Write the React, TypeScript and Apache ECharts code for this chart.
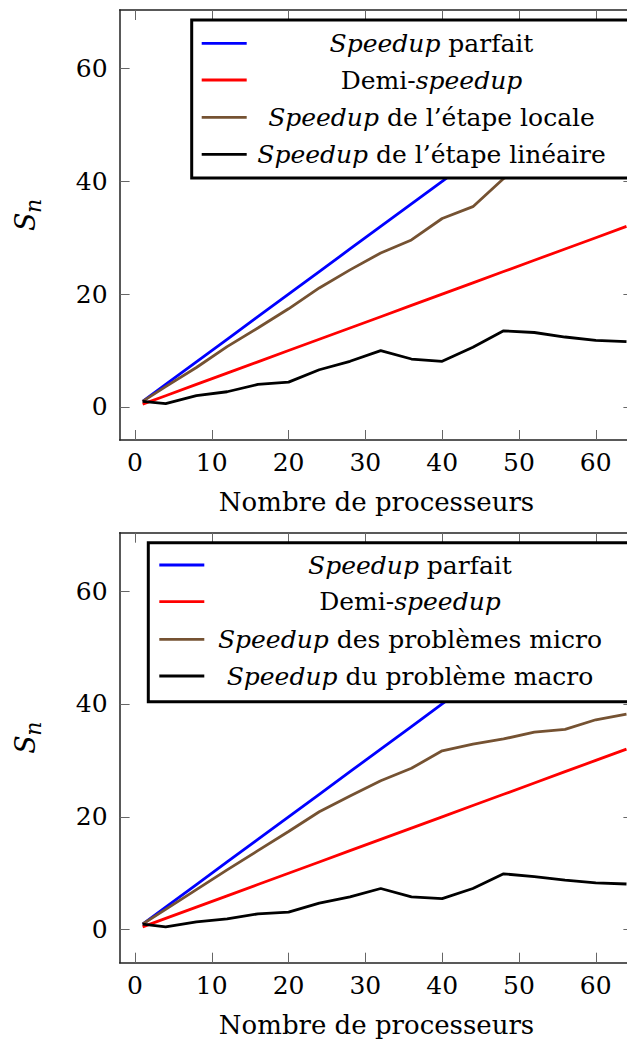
import React, { useEffect, useRef } from "react";
import * as echarts from "echarts";

const processors = [1, 4, 8, 12, 16, 20, 24, 28, 32, 36, 40, 44, 48, 52, 56, 60, 64];
const perfectSpeedup = [1, 4, 8, 12, 16, 20, 24, 28, 32, 36, 40, 44, 48, 52, 56, 60, 64];
const halfSpeedup = [0.5, 2, 4, 6, 8, 10, 12, 14, 16, 18, 20, 22, 24, 26, 28, 30, 32];
const localStep = [1, 3.6, 7.0, 10.7, 14.0, 17.4, 21.1, 24.3, 27.3, 29.6, 33.4, 35.5, 40.5, 43.5, 46.5, 49, 52];
const linearStep = [1, 0.6, 2.0, 2.7, 4.0, 4.4, 6.6, 8.1, 10.0, 8.5, 8.1, 10.6, 13.5, 13.2, 12.4, 11.8, 11.6];
const microProblems = [1, 3.6, 7.1, 10.6, 14.0, 17.4, 20.9, 23.7, 26.4, 28.6, 31.7, 32.9, 33.8, 35.0, 35.5, 37.2, 38.2];
const macroProblem = [1, 0.5, 1.4, 1.9, 2.8, 3.1, 4.7, 5.8, 7.3, 5.8, 5.5, 7.3, 9.9, 9.4, 8.8, 8.3, 8.1];

const xTicks = [0, 10, 20, 30, 40, 50, 60];
const yTicks = [0, 20, 40, 60];

const xAxisTitle = "Nombre de processeurs";
const legendTop = [
  ["Speedup", " parfait"],
  ["Demi-", "speedup"],
  ["Speedup", " de l\u2019\u00e9tape locale"],
  ["Speedup", " de l\u2019\u00e9tape lin\u00e9aire"],
];
const legendBottom = [
  ["Speedup", " parfait"],
  ["Demi-", "speedup"],
  ["Speedup", " des probl\u00e8mes micro"],
  ["Speedup", " du probl\u00e8me macro"],
];

const COLORS = ["#0000ff", "#ff0000", "#755232", "#000000"];
const FONT = "DejaVu Serif";

const pairs = (ys: number[]) => processors.map((x, i) => [x, ys[i]]);

const PANEL_OFFSET = 522.7;

function buildLegend(
  items: string[][],
  box: { x: number; y: number; w: number; h: number },
  lineX: number,
  textCx: number,
  rows: number[]
) {
  const children: any[] = [
    {
      type: "rect",
      shape: { x: box.x, y: box.y, width: box.w, height: box.h },
      style: { fill: "#fff", stroke: "#000", lineWidth: 3 },
      z: 100,
    },
  ];
  items.forEach((it, i) => {
    children.push({
      type: "line",
      shape: { x1: lineX, y1: rows[i], x2: lineX + 45, y2: rows[i] },
      style: { stroke: COLORS[i], lineWidth: 2.8 },
      z: 101,
    });
    const italicFirst = it[0] === "Speedup";
    const text = italicFirst ? `{i|${it[0]}}{r|${it[1]}}` : `{r|${it[0]}}{i|${it[1]}}`;
    children.push({
      type: "text",
      z: 101,
      style: {
        text,
        x: textCx,
        y: rows[i],
        align: "center",
        verticalAlign: "middle",
        fontFamily: FONT,
        fontSize: 25,
        fill: "#000",
        rich: {
          i: { fontFamily: FONT, fontSize: 25, fontStyle: "italic", fill: "#000" },
          r: { fontFamily: FONT, fontSize: 25, fill: "#000" },
        },
      },
    });
  });
  return children;
}

function sn(offset: number) {
  return [
    {
      type: "text",
      x: 39,
      y: 231 + offset,
      rotation: Math.PI / 2,
      style: { text: "S", fontFamily: FONT, fontSize: 27, fontStyle: "italic", fill: "#000", align: "left", verticalAlign: "bottom" },
    },
    {
      type: "text",
      x: 44.5,
      y: 213 + offset,
      rotation: Math.PI / 2,
      style: { text: "n", fontFamily: FONT, fontSize: 22, fontStyle: "italic", fill: "#000", align: "left", verticalAlign: "bottom" },
    },
  ];
}

export default function App() {
  const ref = useRef<HTMLDivElement>(null);
  useEffect(() => {
    if (!ref.current) return;
    const chart = echarts.init(ref.current, null, { renderer: "svg" });
    const gridLeft = 119.6;
    const gridWidth = 513.8;
    const gridHeight = 430;
    const grids = [
      { left: gridLeft, top: 10, width: gridWidth, height: gridHeight },
      { left: gridLeft, top: 10 + PANEL_OFFSET, width: gridWidth, height: gridHeight },
    ];
    const axisLine = { show: true, onZero: false, lineStyle: { color: "#222", width: 1.5 } };
    const tickStyle = { color: "#666", width: 1 };
    const labelStyle = { fontFamily: FONT, fontSize: 25, color: "#000" };
    const xAxes: any[] = [];
    const yAxes: any[] = [];
    [0, 1].forEach((g) => {
      xAxes.push({
        type: "value",
        gridIndex: g,
        position: "bottom",
        min: -2,
        max: 64.9,
        axisLine,
        axisTick: { show: true, inside: true, length: 10, customValues: xTicks, lineStyle: tickStyle },
        axisLabel: { ...labelStyle, margin: 10, customValues: xTicks },
        splitLine: { show: false },
        name: xAxisTitle,
        nameLocation: "middle",
        nameGap: 49,
        nameTextStyle: { fontFamily: FONT, fontSize: 26, color: "#000" },
      });
      xAxes.push({
        type: "value",
        gridIndex: g,
        position: "top",
        min: -2,
        max: 64.9,
        axisLine,
        axisTick: { show: true, inside: true, length: 10, customValues: xTicks, lineStyle: tickStyle },
        axisLabel: { show: false },
        splitLine: { show: false },
      });
      yAxes.push({
        type: "value",
        gridIndex: g,
        position: "left",
        min: -5.85,
        max: 70.35,
        axisLine,
        axisTick: { show: true, inside: true, length: 10, customValues: yTicks, lineStyle: tickStyle },
        axisLabel: { ...labelStyle, margin: 12, customValues: yTicks },
        splitLine: { show: false },
      });
      yAxes.push({
        type: "value",
        gridIndex: g,
        position: "right",
        min: -5.85,
        max: 70.35,
        axisLine,
        axisTick: { show: true, inside: true, length: 10, customValues: yTicks, lineStyle: tickStyle },
        axisLabel: { show: false },
        splitLine: { show: false },
      });
    });
    const mk = (name: string, ys: number[], color: string, g: number) => ({
      type: "line",
      name,
      xAxisIndex: g * 2,
      yAxisIndex: g * 2,
      data: pairs(ys),
      showSymbol: false,
      symbol: "none",
      lineStyle: { color, width: 2.8 },
      itemStyle: { color },
      z: 3,
    });
    const series = [
      mk("Speedup parfait", perfectSpeedup, COLORS[0], 0),
      mk("Demi-speedup", halfSpeedup, COLORS[1], 0),
      mk("Speedup de l\u2019\u00e9tape locale", localStep, COLORS[2], 0),
      mk("Speedup de l\u2019\u00e9tape lin\u00e9aire", linearStep, COLORS[3], 0),
      mk("Speedup parfait ", perfectSpeedup, COLORS[0], 1),
      mk("Demi-speedup ", halfSpeedup, COLORS[1], 1),
      mk("Speedup des probl\u00e8mes micro", microProblems, COLORS[2], 1),
      mk("Speedup du probl\u00e8me macro", macroProblem, COLORS[3], 1),
    ];
    const graphic = [
      ...buildLegend(legendTop, { x: 191.7, y: 20, w: 470, h: 158 }, 201.7, 431.5, [43.3, 80, 117.3, 154.3]),
      ...buildLegend(legendBottom, { x: 148.3, y: 542.7, w: 510, h: 159 }, 159.3, 410, [565, 601.7, 639.3, 676]),
      ...sn(0),
      ...sn(PANEL_OFFSET),
    ];
    chart.setOption({
      animation: false,
      backgroundColor: "#fff",
      grid: grids,
      xAxis: xAxes,
      yAxis: yAxes,
      series,
      graphic,
    });
    return () => chart.dispose();
  }, []);
  return (
    <div style={{ position: "absolute", left: 0, top: 0, width: 627, height: 1041, overflow: "hidden", background: "#fff" }}>
      <div ref={ref} style={{ width: 680, height: 1041 }} />
    </div>
  );
}
